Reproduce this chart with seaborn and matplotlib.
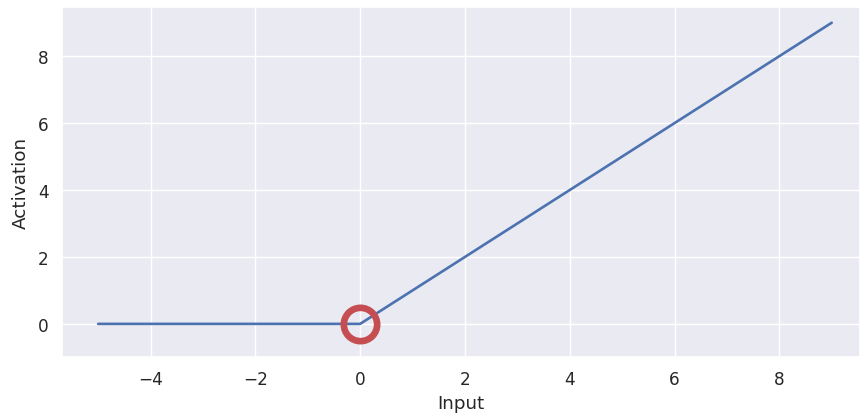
import matplotlib
matplotlib.use("Agg")
import matplotlib.pyplot as plt
import seaborn as sns
import pandas as pd

# Data
x_vals = [-5, 0, 9]
y_vals = [0, 0, 9]
highlight_x = [0]
highlight_y = [0]

sns.set_theme(style="darkgrid")
plt.rcParams['font.family'] = ['DejaVu Sans']

df = pd.DataFrame({"Input": x_vals, "Activation": y_vals})

fig = plt.figure(figsize=(8.6, 4.14), dpi=100)
ax = fig.add_axes([62/860, (414-358)/414, 1 - 62/860, (358-8)/414])

sns.lineplot(data=df, x="Input", y="Activation", ax=ax, color="#4C72B0", linewidth=1.9)
ax.plot(highlight_x, highlight_y, marker="o", markersize=24, markerfacecolor="none",
        markeredgecolor="#C44E52", markeredgewidth=4.8, linestyle="none")

ax.set_xlim(-5.69, 9.54)
ax.set_ylim(-0.99, 9.47)
ax.set_xticks([-4, -2, 0, 2, 4, 6, 8])
ax.set_yticks([0, 2, 4, 6, 8])
ax.tick_params(labelsize=12.2)
ax.set_xlabel("Input", fontsize=13.2, labelpad=4.5)
ax.set_ylabel("Activation", fontsize=13.2, labelpad=6)

fig.savefig("out.png", dpi=100)
